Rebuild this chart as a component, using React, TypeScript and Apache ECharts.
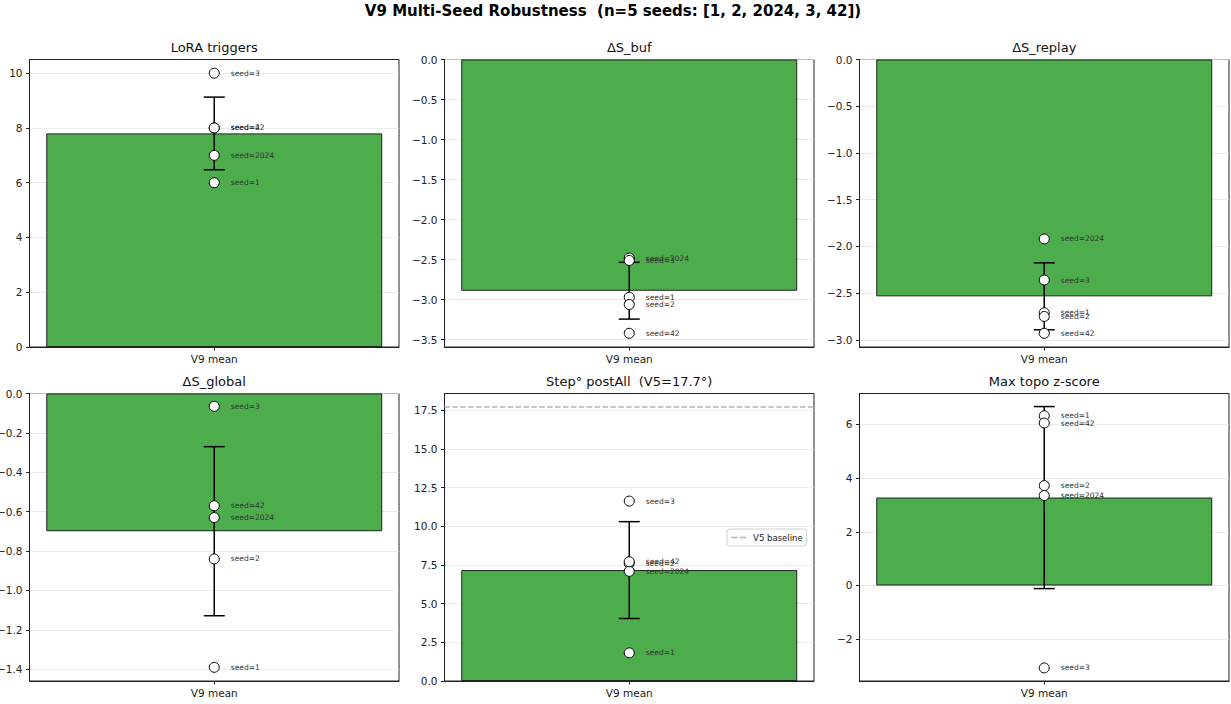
import React, { useEffect, useRef } from 'react';
import * as echarts from 'echarts';

// Seeds in run order and the single bar category
const SEEDS = [1, 2, 2024, 3, 42];
const CATEGORY = ['V9 mean'];
const SUPTITLE = 'V9 Multi-Seed Robustness  (n=5 seeds: [1, 2, 2024, 3, 42])';
const PANEL_TITLES = [
  'LoRA triggers',
  'ΔS_buf',
  'ΔS_replay',
  'ΔS_global',
  'Step° postAll  (V5=17.7°)',
  'Max topo z-score',
];

// Per-seed metric values (same order as SEEDS)
const loraTriggers = [6, 8, 7, 10, 8];
const deltaSBuf = [-2.97, -3.06, -2.48, -2.51, -3.42];
const deltaSReplay = [-2.71, -2.75, -1.92, -2.36, -2.93];
const deltaSGlobal = [-1.39, -0.84, -0.63, -0.065, -0.57];
const stepPostAll = [1.82, 7.6, 7.09, 11.63, 7.71];
const maxTopoZ = [6.32, 3.72, 3.35, -3.07, 6.05];
const PANEL_VALUES = [loraTriggers, deltaSBuf, deltaSReplay, deltaSGlobal, stepPostAll, maxTopoZ];

// Reference level for the step-angle panel
const V5_BASELINE = 17.7;
const BASELINE_PANEL = 4;

// Y tick labels per panel
const ticksLora = [0, 2, 4, 6, 8, 10];
const ticksBuf = [0, -0.5, -1, -1.5, -2, -2.5, -3, -3.5];
const ticksReplay = [0, -0.5, -1, -1.5, -2, -2.5, -3];
const ticksGlobal = [0, -0.2, -0.4, -0.6, -0.8, -1, -1.2, -1.4];
const ticksStep = [0, 2.5, 5, 7.5, 10, 12.5, 15, 17.5];
const ticksTopo = [-2, 0, 2, 4, 6];
const Y_TICKS = [ticksLora, ticksBuf, ticksReplay, ticksGlobal, ticksStep, ticksTopo];
const Y_DECIMALS = [0, 1, 1, 1, 1, 0];

// Layout of the 2x3 panel grid (px)
const COL_LEFT = [29.5, 444.5, 859.5];
const ROW_TOP = [59.5, 393.5];
const PANEL_W = 369.5;
const PANEL_H = 287.5;

const FONT = 'DejaVu Sans';
const BAR_GREEN = '#4dad4d';

const mean = (a: number[]) => a.reduce((s, v) => s + v, 0) / a.length;
const pstd = (a: number[]) => {
  const m = mean(a);
  return Math.sqrt(a.reduce((s, v) => s + (v - m) * (v - m), 0) / a.length);
};

// Autoscale like a bar chart: 0 is a sticky edge, otherwise 5% padding
function yRange(vals: number[], extra: number[]) {
  const m = mean(vals);
  const s = pstd(vals);
  const all = [...vals, m + s, m - s, 0, ...extra];
  const lo = Math.min(...all);
  const hi = Math.max(...all);
  const span = hi - lo;
  return [lo === 0 ? 0 : lo - 0.05 * span, hi === 0 ? 0 : hi + 0.05 * span];
}

const fmt = (v: number, d: number) => {
  const r = Math.abs(v) < 1e-9 ? 0 : v;
  return (r < 0 ? '\u2212' : '') + Math.abs(r).toFixed(d);
};

function buildOption() {
  const grids: any[] = [];
  const xAxes: any[] = [];
  const yAxes: any[] = [];
  const series: any[] = [];
  const titles: any[] = [
    {
      text: SUPTITLE,
      left: 613,
      top: 3,
      textAlign: 'center',
      padding: 0,
      textStyle: { fontFamily: FONT, fontSize: 15, fontWeight: 'bold', color: '#000' },
    },
  ];

  PANEL_VALUES.forEach((vals, i) => {
    const left = COL_LEFT[i % 3];
    const top = ROW_TOP[Math.floor(i / 3)];
    const m = mean(vals);
    const s = pstd(vals);
    const extra = i === BASELINE_PANEL ? [V5_BASELINE] : [];
    const [ymin, ymax] = yRange(vals, extra);
    const dec = Y_DECIMALS[i];

    grids.push({
      left,
      top,
      width: PANEL_W,
      height: PANEL_H,
      show: true,
      borderColor: '#222',
      borderWidth: 1,
      backgroundColor: 'transparent',
      containLabel: false,
      outerBoundsMode: 'none',
    });

    titles.push({
      text: PANEL_TITLES[i],
      left: left + PANEL_W / 2,
      top: top - 19,
      textAlign: 'center',
      padding: 0,
      textStyle: { fontFamily: FONT, fontSize: 13, fontWeight: 'normal', color: '#111' },
    });

    xAxes.push({
      type: 'category',
      gridIndex: i,
      data: CATEGORY,
      boundaryGap: true,
      axisLine: { show: true, onZero: false, lineStyle: { color: '#222', width: 1 } },
      axisTick: { show: true, alignWithLabel: true, length: 3.5, lineStyle: { color: '#222' } },
      axisLabel: { fontFamily: FONT, fontSize: 10.5, color: '#222', margin: 6 },
      splitLine: { show: false },
    });

    yAxes.push({
      type: 'value',
      gridIndex: i,
      min: ymin,
      max: ymax,
      axisLine: { show: true, onZero: false, lineStyle: { color: '#222', width: 1 } },
      axisTick: { show: true, length: 3.5, lineStyle: { color: '#222' }, customValues: Y_TICKS[i] },
      axisLabel: {
        fontFamily: FONT,
        fontSize: 10.5,
        color: '#222',
        margin: 7,
        customValues: Y_TICKS[i],
        formatter: (v: number) => fmt(v, dec),
      },
      splitLine: { show: true, lineStyle: { color: '#e6e6e6', width: 0.8 } },
    });

    series.push({
      type: 'bar',
      name: 'mean' + i,
      xAxisIndex: i,
      yAxisIndex: i,
      data: [m],
      barWidth: '90.9%',
      itemStyle: { color: BAR_GREEN, borderColor: '#111', borderWidth: 0.9 },
      z: 2,
    });

    series.push({
      type: 'custom',
      name: 'err' + i,
      xAxisIndex: i,
      yAxisIndex: i,
      data: [[0, m - s, m + s]],
      encode: { x: 0, y: [1, 2] },
      z: 3,
      renderItem: (params: any, api: any) => {
        const a = api.coord([api.value(0), api.value(1)]);
        const b = api.coord([api.value(0), api.value(2)]);
        const cap = 10.5;
        const style = { stroke: '#000', lineWidth: 1.5, fill: 'none' };
        return {
          type: 'group',
          children: [
            { type: 'line', shape: { x1: a[0], y1: a[1], x2: b[0], y2: b[1] }, style },
            { type: 'line', shape: { x1: a[0] - cap, y1: a[1], x2: a[0] + cap, y2: a[1] }, style },
            { type: 'line', shape: { x1: b[0] - cap, y1: b[1], x2: b[0] + cap, y2: b[1] }, style },
          ],
        };
      },
    });

    series.push({
      type: 'scatter',
      name: 'seeds' + i,
      xAxisIndex: i,
      yAxisIndex: i,
      data: vals.map((v) => [0, v]),
      symbol: 'circle',
      symbolSize: 10,
      itemStyle: { color: '#fff', borderColor: '#000', borderWidth: 1, opacity: 1 },
      label: {
        show: true,
        position: 'right',
        distance: 11,
        fontFamily: FONT,
        fontSize: 7.5,
        color: '#333',
        formatter: (p: any) => 'seed=' + SEEDS[p.dataIndex],
      },
      z: 4,
    });
  });

  // Dashed V5 reference line with its legend entry
  series.push({
    type: 'line',
    name: 'V5 baseline',
    xAxisIndex: BASELINE_PANEL,
    yAxisIndex: BASELINE_PANEL,
    data: [],
    symbol: 'none',
    lineStyle: { color: '#aaaaaa', type: 'dashed', width: 1.5 },
    markLine: {
      silent: true,
      symbol: ['none', 'none'],
      label: { show: false },
      lineStyle: { color: '#b4b4b4', type: [5.5, 2.4], width: 1.5 },
      data: [{ yAxis: V5_BASELINE }],
    },
    z: 1,
  });

  return {
    animation: false,
    backgroundColor: '#fff',
    textStyle: { fontFamily: FONT },
    title: titles,
    grid: grids,
    xAxis: xAxes,
    yAxis: yAxes,
    legend: {
      data: ['V5 baseline'],
      left: 727,
      top: 529,
      orient: 'vertical',
      padding: [4, 4, 4, 4],
      itemWidth: 19,
      itemHeight: 1.6,
      icon: 'path://M0,0H8V2H0Z M11,0H19V2H11Z',
      itemStyle: { color: '#b4b4b4' },
      borderColor: '#d0d0d0',
      borderWidth: 1,
      borderRadius: 3,
      backgroundColor: 'rgba(255,255,255,0.85)',
      selectedMode: false,
      textStyle: { fontFamily: FONT, fontSize: 8.5, color: '#222', padding: [0, 0, 0, 0] },
    },
    series,
  };
}

export default function App() {
  const ref = useRef<HTMLDivElement>(null);
  useEffect(() => {
    if (!ref.current) return;
    const chart = echarts.init(ref.current, null, { renderer: 'svg' });
    chart.setOption(buildOption() as any);
    return () => chart.dispose();
  }, []);
  return (
    <div
      ref={ref}
      style={{ position: 'fixed', left: 0, top: 0, width: 1231, height: 704, background: '#fff' }}
    />
  );
}
